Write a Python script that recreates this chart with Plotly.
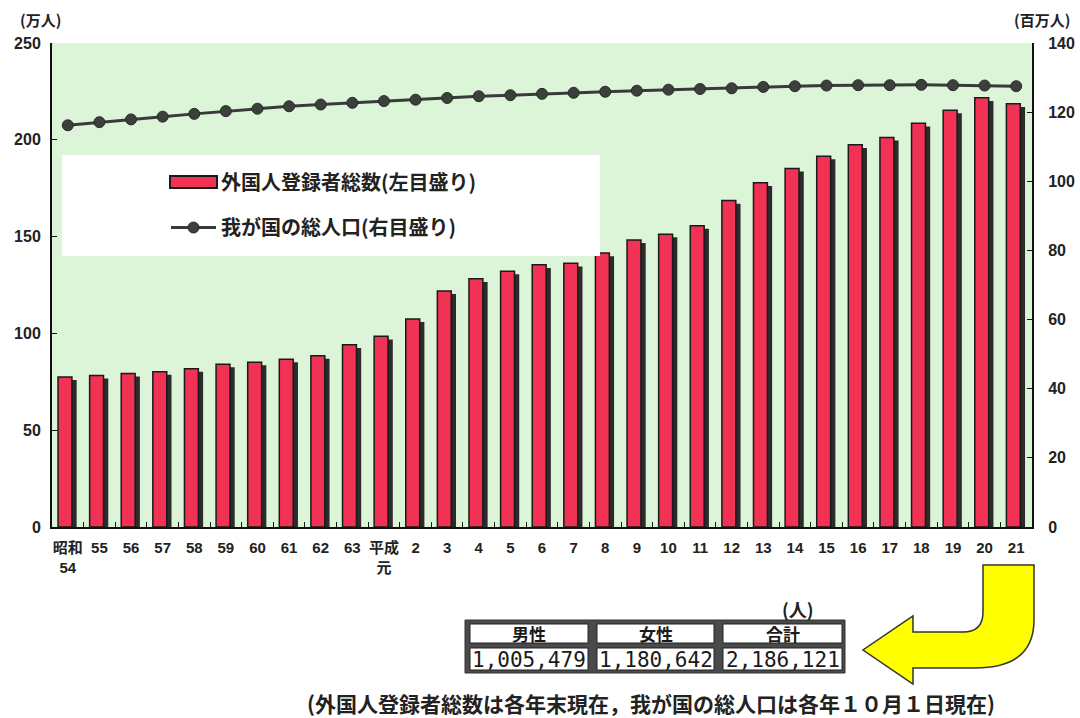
import plotly.graph_objects as go

W, H = 1080, 718


def px(x):
    return x / W


def py(y):
    return 1 - y / H


# ---------------- data ----------------
categories = ["昭和<br>54", "55", "56", "57", "58", "59", "60", "61", "62", "63",
              "平成<br>元", "2", "3", "4", "5", "6", "7", "8", "9", "10", "11",
              "12", "13", "14", "15", "16", "17", "18", "19", "20", "21"]
foreign_registrants = [77.5, 78.3, 79.3, 80.2, 81.8, 84.1, 85.1, 86.7, 88.5, 94.1,
                       98.5, 107.5, 121.9, 128.2, 132.1, 135.4, 136.2, 141.5, 148.3,
                       151.2, 155.6, 168.6, 177.8, 185.2, 191.5, 197.4, 201.2, 208.5,
                       215.3, 221.7, 218.6]
total_population = [116.2, 117.1, 117.9, 118.7, 119.5, 120.3, 121.0, 121.7, 122.2,
                    122.7, 123.2, 123.6, 124.1, 124.6, 124.9, 125.3, 125.6, 125.9,
                    126.2, 126.5, 126.7, 126.9, 127.3, 127.5, 127.7, 127.8, 127.8,
                    127.9, 127.8, 127.7, 127.5]
series_names = ["外国人登録者総数(左目盛り)", "我が国の総人口(右目盛り)"]
table_header = ["男性", "女性", "合計"]
table_values = ["1,005,479", "1,180,642", "2,186,121"]
left_unit = "(万人)"
right_unit = "(百万人)"
table_unit = "(人)"
footnote = "(外国人登録者総数は各年末現在，我が国の総人口は各年１０月１日現在)"

JP = "Noto Sans CJK JP"
NUM = "Liberation Sans"
BAR_RED = "#f23254"
BAR_EDGE = "#1a1a1a"

fig = go.Figure()

# shadow of bars (3D effect)
fig.add_trace(go.Bar(
    x=categories, y=foreign_registrants, base=-1.6,
    width=0.44, offset=-0.16,
    marker=dict(color="#2b2b2b", line=dict(width=0)),
    showlegend=False, hoverinfo="skip", yaxis="y",
))
# front bars (legend entry shown through a legend-only item with a wide swatch)
fig.add_trace(go.Bar(
    x=categories, y=foreign_registrants,
    width=0.44, offset=-0.31,
    marker=dict(color=BAR_RED, line=dict(color=BAR_EDGE, width=1.5)),
    name=series_names[0], showlegend=False, yaxis="y",
))
fig.add_trace(go.Scatter(
    x=[None], y=[None], mode="lines",
    line=dict(color="rgba(0,0,0,0)", width=1),
    name=series_names[0], legendgroup="a", hoverinfo="skip",
))
# population line
fig.add_trace(go.Scatter(
    x=categories, y=total_population, mode="lines+markers",
    line=dict(color="#383c38", width=3),
    marker=dict(symbol="circle", size=11, color="#3c3f3c",
                line=dict(color="#2a2a2a", width=1)),
    name=series_names[1], legendgroup="b", yaxis="y2",
))

axis_common = dict(showline=True, linecolor="#111111", linewidth=2,
                   ticks="inside", ticklen=5, tickcolor="#111111",
                   showgrid=False, zeroline=False)

fig.update_layout(
    width=W, height=H,
    margin=dict(l=0, r=0, t=0, b=0),
    paper_bgcolor="white",
    plot_bgcolor="#dcf5d9",
    barmode="overlay",
    font=dict(family=JP, color="#222222"),
    xaxis=dict(domain=[px(52), px(1032)], type="category",
               range=[-0.5, len(categories) - 0.5],
               tickson="boundaries", ticklabelstandoff=6, tickangle=0,
               tickfont=dict(family=NUM + ", " + JP, size=15, color="#222222", weight="bold"),
               automargin=False, **axis_common),
    yaxis=dict(domain=[py(527), py(43)], range=[0, 250], tickvals=[0, 50, 100, 150, 200, 250],
               ticklabelstandoff=6, automargin=False,
               tickfont=dict(family=NUM, size=16, color="#222222", weight="bold"),
               **axis_common),
    yaxis2=dict(overlaying="y", side="right", anchor="x", range=[0, 140],
                tickvals=[0, 20, 40, 60, 80, 100, 120, 140],
                ticklabelstandoff=11, automargin=False,
                tickfont=dict(family=NUM, size=16, color="#222222", weight="bold"),
                **axis_common),
    legend=dict(x=px(166), y=py(163), xanchor="left", yanchor="top",
                bgcolor="rgba(0,0,0,0)", borderwidth=0,
                font=dict(family=JP, size=20, color="#222222", weight="bold"),
                itemwidth=45, traceorder="grouped", tracegroupgap=16),
    showlegend=True,
)

shapes = []
# white legend box
shapes.append(dict(type="rect", xref="paper", yref="paper",
                   x0=px(62), x1=px(600), y0=py(256), y1=py(155),
                   fillcolor="white", line=dict(width=0), layer="above"))
# wide swatch for the bar legend entry
shapes.append(dict(type="rect", xref="paper", yref="paper",
                   x0=px(170), x1=px(217), y0=py(188), y1=py(176),
                   fillcolor=BAR_RED, line=dict(color=BAR_EDGE, width=2), layer="above"))

# table frame and cells
shapes.append(dict(type="rect", xref="paper", yref="paper",
                   x0=px(465), x1=px(845), y0=py(673), y1=py(620),
                   fillcolor="#4a4a4a", line=dict(color="#333333", width=1)))
col_x = [(470, 588), (597, 714), (723, 842)]
row_y = [(624, 643), (648, 670)]
for (x0, x1) in col_x:
    for (y0, y1) in row_y:
        shapes.append(dict(type="rect", xref="paper", yref="paper",
                           x0=px(x0), x1=px(x1), y0=py(y1), y1=py(y0),
                           fillcolor="white", line=dict(color="#222222", width=1)))


# yellow curved arrow
def P(x, y):
    return f"{px(x):.5f},{py(y):.5f}"


arrow_path = ("M " + P(983, 565) + " L " + P(1034, 565) + " L " + P(1034, 620) +
              " Q " + P(1034, 668) + " " + P(975, 668) + " L " + P(913, 668) +
              " L " + P(913, 684) + " L " + P(863, 650) + " L " + P(913, 616) +
              " L " + P(913, 632) + " L " + P(963, 632) + " Q " + P(983, 632) + " " +
              P(983, 612) + " Z")
shapes.append(dict(type="path", xref="paper", yref="paper", path=arrow_path,
                   fillcolor="#ffff00", line=dict(color="#333333", width=1.5)))
fig.update_layout(shapes=shapes)


def note(text, x, y, size, family=JP, weight="bold", color="#222222"):
    return dict(text=text, x=px(x), y=py(y), xref="paper", yref="paper",
                xanchor="center", yanchor="middle", showarrow=False,
                font=dict(family=family, size=size, weight=weight, color=color))


ann = [
    note(left_unit, 40, 19, 15),
    note(right_unit, 1042, 19, 15),
    note(table_unit, 798, 609, 18),
    note(footnote, 651, 703, 21),
]
for i, (x0, x1) in enumerate(col_x):
    cx = (x0 + x1) / 2
    ann.append(note(table_header[i], cx, (row_y[0][0] + row_y[0][1]) / 2, 17,
                    color="#1a1a1a"))
    ann.append(note(table_values[i], cx, (row_y[1][0] + row_y[1][1]) / 2 + 1, 21,
                    family="DejaVu Sans Mono", weight="normal", color="#1a1a1a"))
fig.update_layout(annotations=ann)

fig.write_html("out.html")
